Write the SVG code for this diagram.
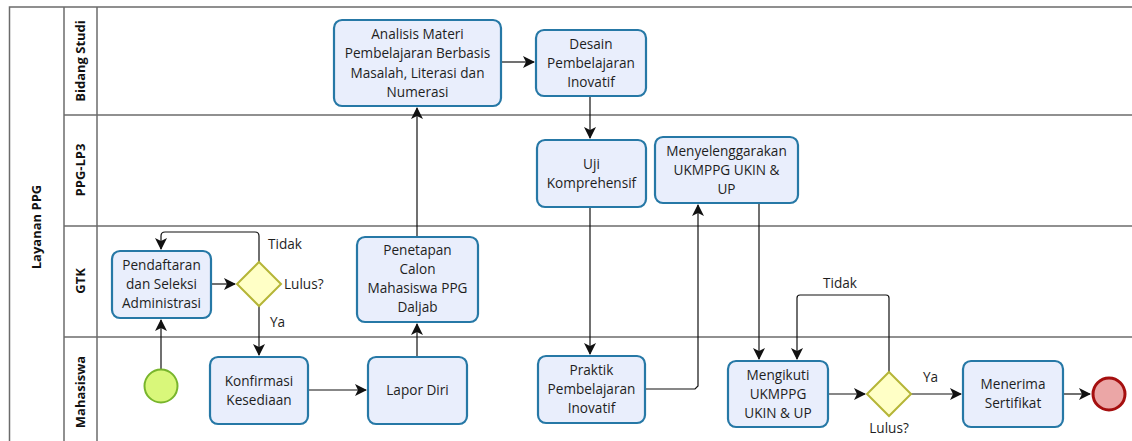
<svg xmlns="http://www.w3.org/2000/svg" width="1132" height="441" viewBox="0 0 1132 441">
<defs>
<style>
.lane{fill:none;stroke:#6b6b6b;stroke-width:1.5}
.task{fill:#e9eefc;stroke:#2678a6;stroke-width:2.2}
.gw{fill:#ffffc6;stroke:#b5b537;stroke-width:2}
.t{font-family:"Open Sans","Noto Sans",sans-serif;font-size:13.6px;fill:#1e1e1e;text-anchor:middle}
.lbl{font-family:"Open Sans","Noto Sans",sans-serif;font-size:13.6px;fill:#1e1e1e}
.lh{font-family:"Open Sans","Noto Sans",sans-serif;font-size:13px;font-weight:bold;fill:#111;text-anchor:middle}
.c{fill:none;stroke:#111;stroke-width:1.2}
</style>
<marker id="arr" viewBox="0 0 12 12" refX="11" refY="6" markerWidth="12" markerHeight="12" markerUnits="userSpaceOnUse" orient="auto">
<path d="M0,0 L12,6 L0,12 L3,6 Z" fill="#111"/>
</marker>
</defs>
<rect width="1132" height="441" fill="#fff"/>
<g id="pool">
<path class="lane" d="M1132,7 H9.5 V447"/>
<line class="lane" x1="64" y1="7" x2="64" y2="447"/>
<line class="lane" x1="97" y1="7" x2="97" y2="447"/>
<line class="lane" x1="64" y1="115" x2="1132" y2="115"/>
<line class="lane" x1="64" y1="226" x2="1132" y2="226"/>
<line class="lane" x1="64" y1="337" x2="1132" y2="337"/>
<text class="lh" transform="translate(41,227) rotate(-90)">Layanan PPG</text>
<text class="lh" transform="translate(85,61) rotate(-90)">Bidang Studi</text>
<text class="lh" transform="translate(85,170) rotate(-90)">PPG-LP3</text>
<text class="lh" transform="translate(85,281) rotate(-90)">GTK</text>
<text class="lh" transform="translate(85,392) rotate(-90)">Mahasiswa</text>
</g>
<g id="connectors">
<path class="c" d="M161,369 V320" marker-end="url(#arr)"/>
<path class="c" d="M211,284 H235" marker-end="url(#arr)"/>
<path class="c" d="M259,262 V236 Q259,232 255,232 H165 Q161,232 161,236 V249" marker-end="url(#arr)"/>
<path class="c" d="M259,306 V355" marker-end="url(#arr)"/>
<path class="c" d="M308,390 H366" marker-end="url(#arr)"/>
<path class="c" d="M417,357 V324" marker-end="url(#arr)"/>
<path class="c" d="M417,237 V108" marker-end="url(#arr)"/>
<path class="c" d="M502,62 H534" marker-end="url(#arr)"/>
<path class="c" d="M590,96 V138" marker-end="url(#arr)"/>
<path class="c" d="M590,207 V354" marker-end="url(#arr)"/>
<path class="c" d="M645,389 H695 L698,386 V205" marker-end="url(#arr)"/>
<path class="c" d="M759,203 V359" marker-end="url(#arr)"/>
<path class="c" d="M889,372 V298 Q889,295 886,295 H800 Q797,295 797,298 V359" marker-end="url(#arr)"/>
<path class="c" d="M828,394 H865" marker-end="url(#arr)"/>
<path class="c" d="M911,394 H961" marker-end="url(#arr)"/>
<path class="c" d="M1063,394 H1090" marker-end="url(#arr)"/>
<text class="lbl" x="268" y="249">Tidak</text>
<text class="lbl" x="270" y="327">Ya</text>
<text class="lbl" x="823" y="288">Tidak</text>
<text class="lbl" x="923" y="382">Ya</text>
</g>
<g id="start"><circle cx="161" cy="386" r="16.5" fill="#d9f77a" stroke="#78b52c" stroke-width="2"/></g>
<g id="end"><circle cx="1109" cy="394" r="16" fill="#eba6a6" stroke="#a50f0f" stroke-width="3"/></g>
<g id="pendaftaran">
<rect class="task" x="112" y="251" width="99" height="67" rx="8"/>
<text class="t" x="161.5" y="270">Pendaftaran</text>
<text class="t" x="161.5" y="289">dan Seleksi</text>
<text class="t" x="161.5" y="308">Administrasi</text>
</g>
<g id="gw1">
<path class="gw" d="M259,262 L281,284 L259,306 L237,284 Z"/>
<text class="lbl" x="284" y="289">Lulus?</text>
</g>
<g id="konfirmasi">
<rect class="task" x="210" y="357" width="98" height="67" rx="8"/>
<text class="t" x="259" y="386">Konfirmasi</text>
<text class="t" x="259" y="405">Kesediaan</text>
</g>
<g id="lapor">
<rect class="task" x="368" y="357" width="99" height="67" rx="8"/>
<text class="t" x="417.5" y="395">Lapor Diri</text>
</g>
<g id="penetapan">
<rect class="task" x="357" y="237" width="121" height="85" rx="8"/>
<text class="t" x="417.5" y="255">Penetapan</text>
<text class="t" x="417.5" y="274">Calon</text>
<text class="t" x="417.5" y="293">Mahasiswa PPG</text>
<text class="t" x="417.5" y="312">Daljab</text>
</g>
<g id="analisis">
<rect class="task" x="334" y="20" width="167" height="86" rx="8"/>
<text class="t" x="417.5" y="39">Analisis Materi</text>
<text class="t" x="417.5" y="58">Pembelajaran Berbasis</text>
<text class="t" x="417.5" y="78">Masalah, Literasi dan</text>
<text class="t" x="417.5" y="97">Numerasi</text>
</g>
<g id="desain">
<rect class="task" x="536" y="30" width="110" height="66" rx="8"/>
<text class="t" x="591" y="49">Desain</text>
<text class="t" x="591" y="68">Pembelajaran</text>
<text class="t" x="591" y="87">Inovatif</text>
</g>
<g id="uji">
<rect class="task" x="537" y="140" width="109" height="67" rx="8"/>
<text class="t" x="591.5" y="169">Uji</text>
<text class="t" x="591.5" y="188">Komprehensif</text>
</g>
<g id="menyelenggarakan">
<rect class="task" x="655" y="137" width="143" height="66" rx="8"/>
<text class="t" x="726.5" y="156">Menyelenggarakan</text>
<text class="t" x="726.5" y="175">UKMPPG UKIN &amp;</text>
<text class="t" x="726.5" y="194">UP</text>
</g>
<g id="praktik">
<rect class="task" x="538" y="356" width="107" height="67" rx="8"/>
<text class="t" x="591.5" y="375">Praktik</text>
<text class="t" x="591.5" y="394">Pembelajaran</text>
<text class="t" x="591.5" y="413">Inovatif</text>
</g>
<g id="mengikuti">
<rect class="task" x="728" y="361" width="100" height="66" rx="8"/>
<text class="t" x="778" y="380">Mengikuti</text>
<text class="t" x="778" y="399">UKMPPG</text>
<text class="t" x="778" y="418">UKIN &amp; UP</text>
</g>
<g id="gw2">
<path class="gw" d="M889,372 L911,394 L889,416 L867,394 Z"/>
<text class="t" x="889" y="433">Lulus?</text>
</g>
<g id="menerima">
<rect class="task" x="963" y="361" width="100" height="66" rx="8"/>
<text class="t" x="1013" y="389">Menerima</text>
<text class="t" x="1013" y="408">Sertifikat</text>
</g>
</svg>
